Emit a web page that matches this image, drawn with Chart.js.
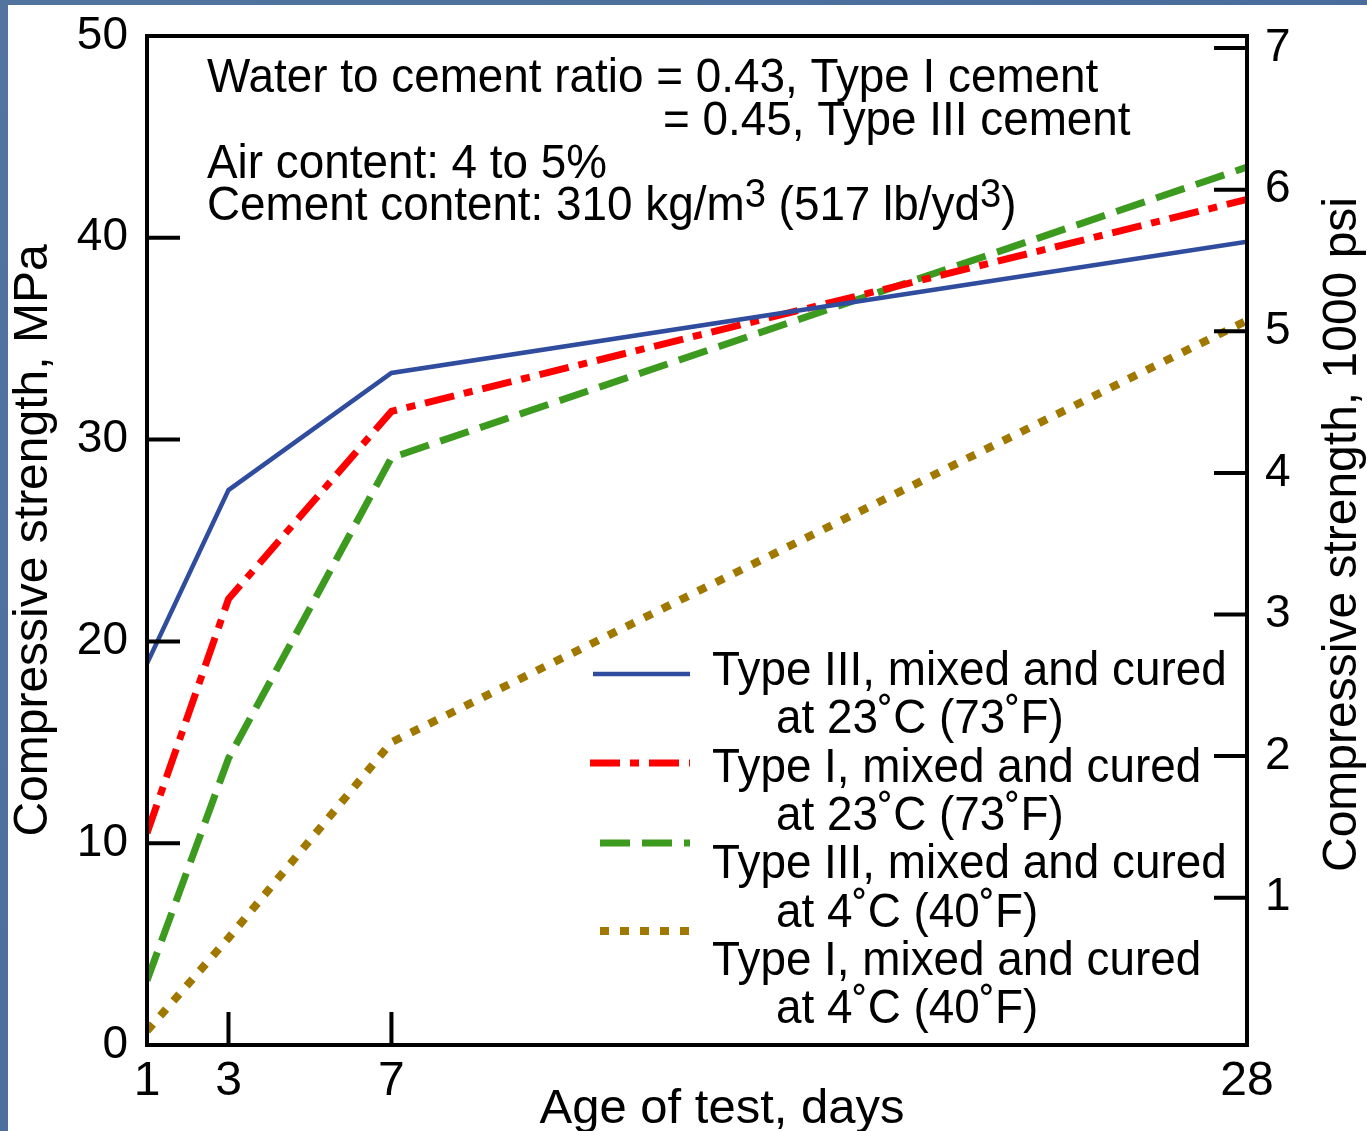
<!DOCTYPE html>
<html>
<head>
<meta charset="utf-8">
<title>Compressive strength vs age</title>
<script src="https://cdn.jsdelivr.net/npm/chart.js@4.4.1/dist/chart.umd.min.js"></script>
<style>
    html, body { margin: 0; padding: 0; background: #4b6e9b; overflow: hidden; }
    #wrap { position: relative; width: 1367px; height: 1131px; }
</style>
</head>
<body>
<div id="wrap"><canvas id="strengthChart" width="1367" height="1131"></canvas></div>
<script>
// Age of test (days) and strengths (MPa)
const days = [1, 3, 7, 28];
const typeIII_23C = [18.9, 27.5, 33.3, 39.8];
const typeI_23C = [10.5, 22.1, 31.4, 41.9];
const typeIII_4C = [3.2, 14.2, 29.1, 43.5];
const typeI_4C = [0.7, 5.3, 15.0, 35.9];

// Axis ticks
const dayTicks = [1, 3, 7, 28];
const mpaTicks = [0, 10, 20, 30, 40, 50];
const psiTicks = [1, 2, 3, 4, 5, 6, 7];

// Legend labels (two lines each)
const seriesLabels = [
    ['Type III, mixed and cured', 'at 23˚C (73˚F)'],
    ['Type I, mixed and cured', 'at 23˚C (73˚F)'],
    ['Type III, mixed and cured', 'at 4˚C (40˚F)'],
    ['Type I, mixed and cured', 'at 4˚C (40˚F)']
];

const FONT = "'Liberation Sans', Arial, Helvetica, sans-serif";
const NARROW = 0.955;

const seriesStyles = [
    { color: '#2f4c9e', width: 4.5, dash: [] },
    { color: '#ff0000', width: 7, dash: [30, 10, 9, 10] },
    { color: '#3c9a1f', width: 7, dash: [30, 12] },
    { color: '#a07800', width: 8, dash: [9, 11] }
];

// Legend sample lines and text rows
const legendRows = [
    { lineY: 674, x0: 593, text1: 685, text2: 733 },
    { lineY: 763, x0: 590, text1: 782, text2: 830 },
    { lineY: 843, x0: 600, text1: 878, text2: 927 },
    { lineY: 931, x0: 600, text1: 975, text2: 1023 }
];

// Draw a run of text pieces (supports superscripts), horizontally condensed
function drawRuns(ctx, runs, x, y) {
    ctx.save();
    ctx.translate(x, y);
    ctx.scale(NARROW, 1);
    ctx.fillStyle = '#000';
    ctx.textBaseline = 'alphabetic';
    ctx.textAlign = 'left';
    let cx = 0;
    runs.forEach(r => {
        ctx.font = `${r.size || 48}px ${FONT}`;
        ctx.fillText(r.text, cx, -(r.rise || 0));
        cx += ctx.measureText(r.text).width;
    });
    ctx.restore();
}

const decorPlugin = {
    id: 'decor',
    beforeDraw(chart) {
        const ctx = chart.ctx;
        ctx.save();
        const g = ctx.createLinearGradient(0, 0, chart.width, chart.height);
        g.addColorStop(0, '#52749f');
        g.addColorStop(1, '#44679a');
        ctx.fillStyle = g;
        ctx.fillRect(0, 0, chart.width, chart.height);
        ctx.fillStyle = '#ffffff';
        ctx.fillRect(8, 5, chart.width - 8, chart.height - 5);
        ctx.restore();
    },
    afterDatasetsDraw(chart) {
        const { ctx, chartArea: a, scales } = chart;
        ctx.save();
        ctx.strokeStyle = '#000';
        ctx.lineWidth = 4;
        ctx.setLineDash([]);
        ctx.strokeRect(a.left, a.top, a.right - a.left, a.bottom - a.top);

        // inward tick marks
        const len = 33;
        ctx.beginPath();
        mpaTicks.forEach(v => {
            const y = scales.y.getPixelForValue(v);
            ctx.moveTo(a.left, y);
            ctx.lineTo(a.left + len, y);
        });
        psiTicks.forEach(v => {
            const y = scales.psi.getPixelForValue(v);
            ctx.moveTo(a.right, y);
            ctx.lineTo(a.right - len, y);
        });
        dayTicks.forEach(v => {
            const x = scales.x.getPixelForValue(v);
            ctx.moveTo(x, a.bottom);
            ctx.lineTo(x, a.bottom - len);
        });
        ctx.stroke();
        ctx.restore();
    },
    afterDraw(chart) {
        const { ctx, chartArea: a } = chart;

        // axis titles: bottom one sits a little right of centre, right one reads upward
        ctx.save();
        ctx.fillStyle = '#000';
        ctx.font = `49px ${FONT}`;
        ctx.textAlign = 'center';
        ctx.textBaseline = 'alphabetic';
        ctx.fillText('Age of test, days', 722, 1123);
        ctx.translate(1356, (a.top + a.bottom) / 2 - 6);
        ctx.rotate(-Math.PI / 2);
        ctx.font = `48px ${FONT}`;
        ctx.fillText('Compressive strength, 1000 psi', 0, 0);
        ctx.restore();

        // mix notes
        drawRuns(ctx, [{ text: 'Water to cement ratio = 0.43, Type I cement' }], 207, 92);
        drawRuns(ctx, [{ text: '= 0.45, Type III cement' }], 663, 135);
        drawRuns(ctx, [{ text: 'Air content: 4 to 5%' }], 207, 178);
        drawRuns(ctx, [
            { text: 'Cement content: 310 kg/m' },
            { text: '3', size: 40, rise: 13 },
            { text: ' (517 lb/yd' },
            { text: '3', size: 40, rise: 13 },
            { text: ')' }
        ], 207, 220);

        // legend
        chart.data.datasets.forEach((ds, i) => {
            const row = legendRows[i];
            const st = seriesStyles[i];
            ctx.save();
            ctx.strokeStyle = st.color;
            ctx.lineWidth = st.width;
            ctx.lineCap = 'butt';
            ctx.setLineDash(st.dash);
            ctx.beginPath();
            ctx.moveTo(row.x0, row.lineY);
            ctx.lineTo(690, row.lineY);
            ctx.stroke();
            ctx.restore();
            drawRuns(ctx, [{ text: seriesLabels[i][0] }], 712, row.text1);
            drawRuns(ctx, [{ text: seriesLabels[i][1] }], 776, row.text2);
        });
    }
};

function makeDataset(values, i) {
    const st = seriesStyles[i];
    return {
        label: seriesLabels[i].join(' '),
        data: days.map((d, k) => ({ x: d, y: values[k] })),
        borderColor: st.color,
        borderWidth: st.width,
        borderDash: st.dash,
        borderCapStyle: 'butt',
        borderJoinStyle: 'miter',
        pointRadius: 0,
        tension: 0,
        fill: false,
        yAxisID: 'y'
    };
}

// small lineHeight keeps the end labels from pushing the plot area down
const tickFont = { family: FONT, size: 46, lineHeight: 0.5 };

new Chart(document.getElementById('strengthChart'), {
    type: 'line',
    data: {
        datasets: [
            makeDataset(typeIII_23C, 0),
            makeDataset(typeI_23C, 1),
            makeDataset(typeIII_4C, 2),
            makeDataset(typeI_4C, 3)
        ]
    },
    plugins: [decorPlugin],
    options: {
        responsive: false,
        animation: false,
        devicePixelRatio: 1,
        layout: { padding: { top: 36, left: 0, right: 0, bottom: 0 } },
        plugins: {
            legend: { display: false },
            tooltip: { enabled: false }
        },
        scales: {
            x: {
                type: 'linear',
                position: 'bottom',
                min: 1,
                max: 28,
                afterBuildTicks: s => { s.ticks = dayTicks.map(v => ({ value: v })); },
                afterFit: s => { s.height = 86; },
                grid: { display: false, drawTicks: false },
                border: { display: false },
                ticks: { font: { family: FONT, size: 48 }, color: '#000', padding: 8, maxRotation: 0, autoSkip: false },
                title: { display: false, text: 'Age of test, days' }
            },
            y: {
                position: 'left',
                min: 0,
                max: 50,
                afterBuildTicks: s => { s.ticks = mpaTicks.map(v => ({ value: v })); },
                afterFit: s => { s.width = 147; },
                grid: { display: false, drawTicks: false },
                border: { display: false },
                ticks: { font: tickFont, color: '#000', padding: 19 },
                title: { display: true, text: 'Compressive strength, MPa', color: '#000', font: { family: FONT, size: 48, lineHeight: 1.2 }, padding: { top: 5, bottom: 0 } }
            },
            psi: {
                position: 'right',
                min: -0.04,
                max: 7.085,
                afterBuildTicks: s => { s.ticks = psiTicks.map(v => ({ value: v })); },
                afterFit: s => { s.width = 120; },
                grid: { display: false, drawTicks: false },
                border: { display: false },
                ticks: { font: tickFont, color: '#000', padding: 18 },
                title: { display: false, text: 'Compressive strength, 1000 psi' }
            }
        }
    }
});
</script>
</body>
</html>
